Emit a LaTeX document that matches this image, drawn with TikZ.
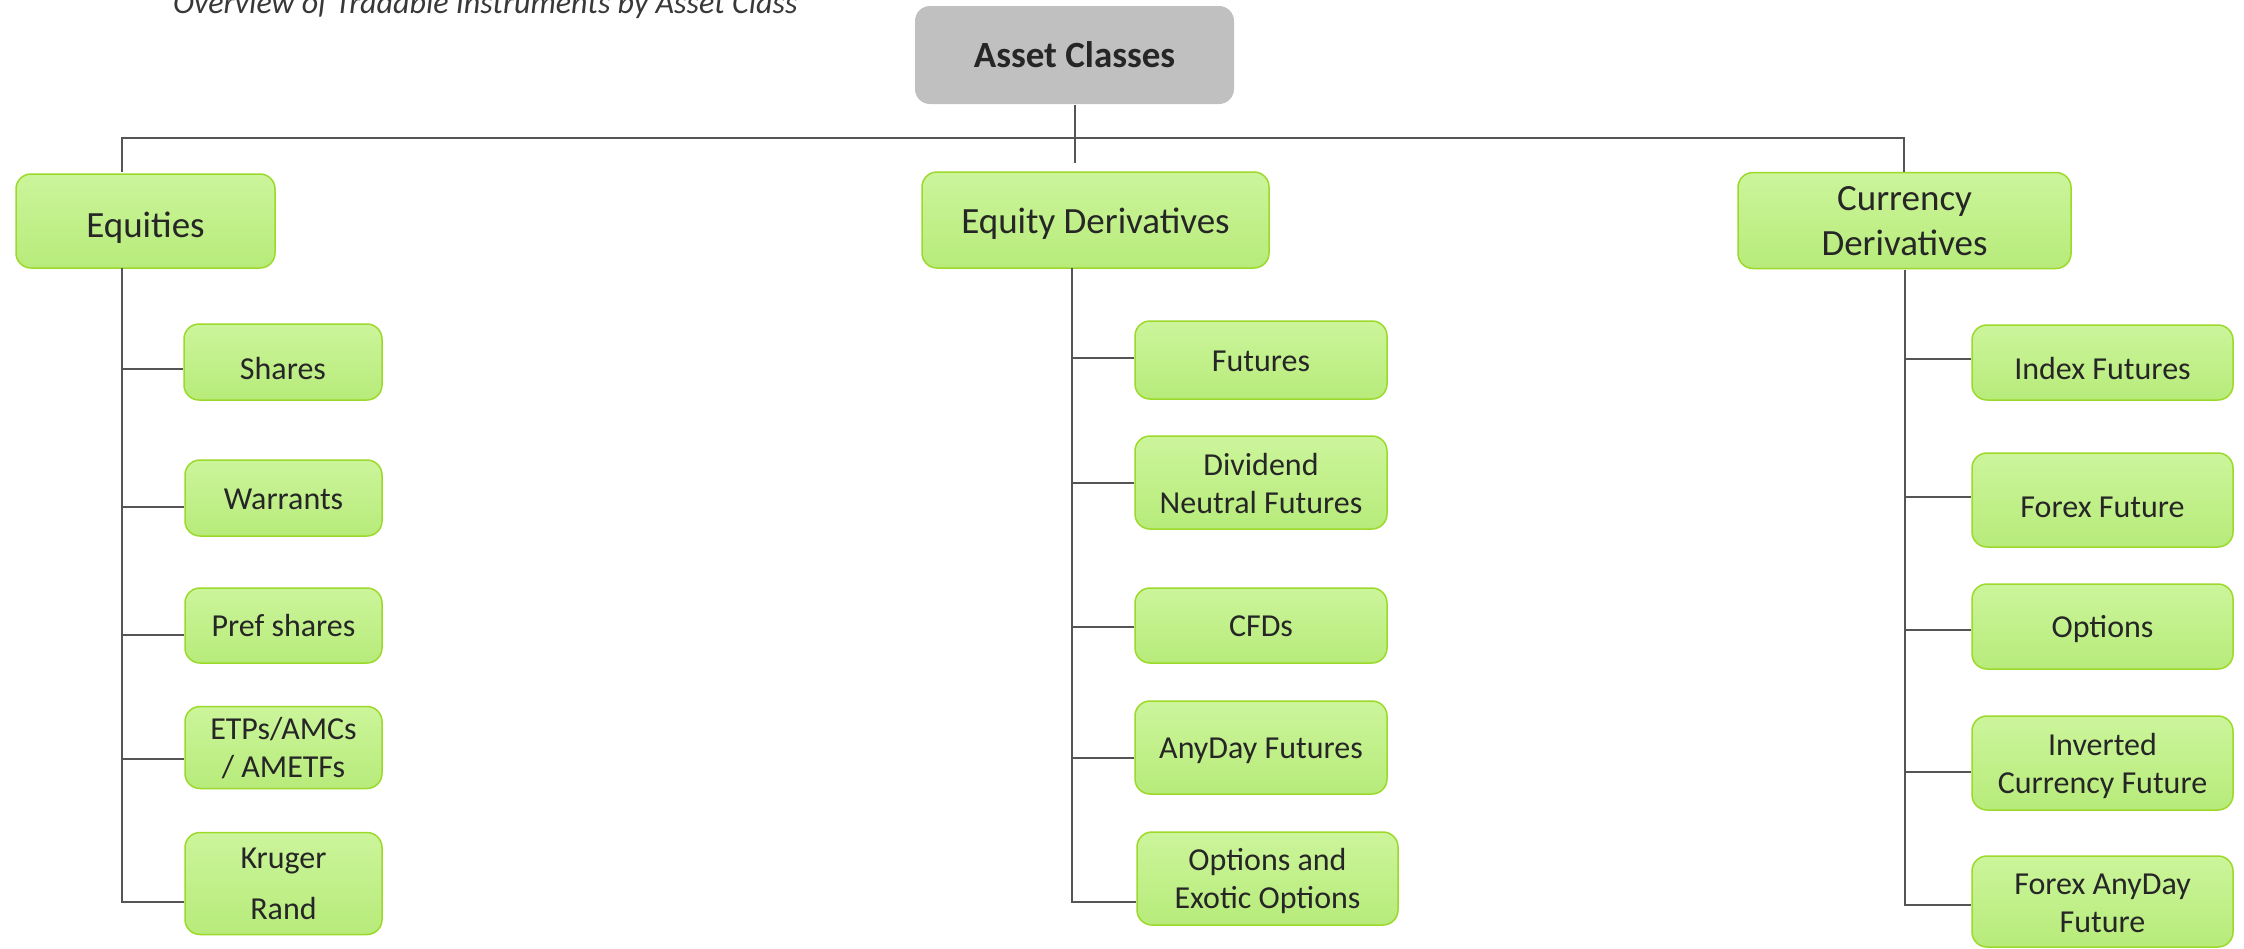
\documentclass[tikz,border=0pt]{standalone}
\usepackage{fontspec}
\setmainfont{Carlito}
\definecolor{gtop}{HTML}{CCF59B}
\definecolor{gbot}{HTML}{B7EB7A}
\definecolor{gborder}{HTML}{9CD92A}
\definecolor{rootfill}{HTML}{C0C0C0}
\definecolor{txt}{HTML}{262626}
\definecolor{conn}{HTML}{555555}
\definecolor{titlec}{HTML}{383838}
\newcommand{\tx}[2]{\raisebox{0pt}[\dimexpr\height+#1\relax][\depth]{\begin{tabular}{@{}c@{}}#2\end{tabular}}}
\tikzset{
  box/.style={line width=1.5pt, rounded corners=15pt, text=txt, inner sep=0pt, anchor=center},
  gbox/.style={box, draw=gborder, top color=gtop, bottom color=gbot},
  leaf/.style={gbox, font=\fontsize{32}{38}\selectfont},
  mid/.style={gbox, font=\fontsize{37}{45}\selectfont},
  rootbox/.style={box, fill=rootfill, font=\fontsize{37}{44}\selectfont\bfseries},
  conline/.style={draw=conn, line width=2pt},
}
\begin{document}
\begin{tikzpicture}[x=1pt,y=-1pt]
\useasboundingbox (0,0) rectangle (2244,948);
\clip (0,0) rectangle (2244,948);
% title
\node[anchor=base west, inner sep=0pt, text=titlec, font=\fontsize{32}{38}\selectfont\itshape] (title) at (173,13) {Overview of Tradable Instruments by Asset Class};
% root and level 1
\node[rootbox, minimum width=319pt, minimum height=98pt] (root) at (1074.5,55) {\tx{8pt}{Asset Classes}};
\node[mid, minimum width=259pt, minimum height=94pt] (eq) at (145.5,221) {\tx{14pt}{Equities}};
\node[mid, minimum width=347pt, minimum height=96pt] (ed) at (1095.5,220) {\tx{8pt}{Equity Derivatives}};
\node[mid, minimum width=333pt, minimum height=95pt] (cd) at (1904.5,220.5) {\tx{6pt}{Currency\\Derivatives}};
% equities children
\node[leaf, minimum width=198pt, minimum height=76pt] (sh) at (283,362) {\tx{19pt}{Shares}};
\node[leaf, minimum width=197pt, minimum height=76pt] (wa) at (283.5,498) {\tx{7pt}{Warrants}};
\node[leaf, minimum width=197pt, minimum height=75pt] (pr) at (283.5,625.5) {\tx{6pt}{Pref shares}};
\node[leaf, minimum width=197pt, minimum height=67pt] (et) at (283.5,747.5) {\tx{6pt}{ETPs/AMCs\\/ AMETFs}};
\node[leaf, minimum width=197pt, minimum height=93pt, font=\fontsize{32}{51}\selectfont] (kr) at (283.5,883.5) {\tx{0pt}{Kruger\\Rand}};
% equity derivatives children
\node[leaf, minimum width=252pt, minimum height=78pt] (fu) at (1261,360) {\tx{7pt}{Futures}};
\node[leaf, minimum width=252pt, minimum height=93pt] (dn) at (1261,482.5) {\tx{8pt}{Dividend\\Neutral Futures}};
\node[leaf, minimum width=252pt, minimum height=75pt] (cf) at (1261,625.5) {\tx{6pt}{CFDs}};
\node[leaf, minimum width=252pt, minimum height=93pt] (ad) at (1261,747.5) {\tx{7pt}{AnyDay Futures}};
\node[leaf, minimum width=261pt, minimum height=93pt] (op) at (1267.5,878.5) {\tx{7pt}{Options and\\Exotic Options}};
% currency derivatives children
\node[leaf, minimum width=261pt, minimum height=75pt] (if) at (2102.5,362.5) {\tx{18pt}{Index Futures}};
\node[leaf, minimum width=261pt, minimum height=94pt] (ff) at (2102.5,500) {\tx{19pt}{Forex Future}};
\node[leaf, minimum width=261pt, minimum height=85pt] (oo) at (2102.5,626.5) {\tx{6pt}{Options}};
\node[leaf, minimum width=261pt, minimum height=94pt] (ic) at (2102.5,763) {\tx{7pt}{Inverted\\Currency Future}};
\node[leaf, minimum width=261pt, minimum height=91pt] (fa) at (2102.5,901.5) {\tx{8pt}{Forex AnyDay\\Future}};
% connector points
\coordinate (rootend) at (1075,163);
\coordinate (busL) at (122,138);
\coordinate (busR) at (1904,138);
\coordinate (eqtop) at (122,172);
\coordinate (cdtop) at (1904,172);
\coordinate (eqtr) at (122,268);
\coordinate (edtr) at (1072,268);
\coordinate (cdtr) at (1905,270);
% top connectors
\draw[conline] (root.south -| rootend) -- (rootend);
\draw[conline] (eqtop) -- (busL) -- (busR) -- (cdtop);
% equities
\draw[conline] (eqtr) -- (122,902) -- ([yshift=-18.5pt]kr.west);
\draw[conline] (122,369) -- ([yshift=-7pt]sh.west);
\draw[conline] (122,507) -- ([yshift=-9pt]wa.west);
\draw[conline] (122,635) -- ([yshift=-9.5pt]pr.west);
\draw[conline] (122,759) -- ([yshift=-11.5pt]et.west);
% equity derivatives
\draw[conline] (edtr) -- (1072,902) -- ([yshift=-23.5pt]op.west);
\draw[conline] (1072,358) -- ([yshift=2pt]fu.west);
\draw[conline] (1072,483) -- ([yshift=-0.5pt]dn.west);
\draw[conline] (1072,627) -- ([yshift=-1.5pt]cf.west);
\draw[conline] (1072,758) -- ([yshift=-10.5pt]ad.west);
% currency derivatives
\draw[conline] (cdtr) -- (1905,905) -- ([yshift=-3.5pt]fa.west);
\draw[conline] (1905,359) -- ([yshift=3.5pt]if.west);
\draw[conline] (1905,497) -- ([yshift=3pt]ff.west);
\draw[conline] (1905,630) -- ([yshift=-3.5pt]oo.west);
\draw[conline] (1905,772) -- ([yshift=-9pt]ic.west);
\end{tikzpicture}
\end{document}
